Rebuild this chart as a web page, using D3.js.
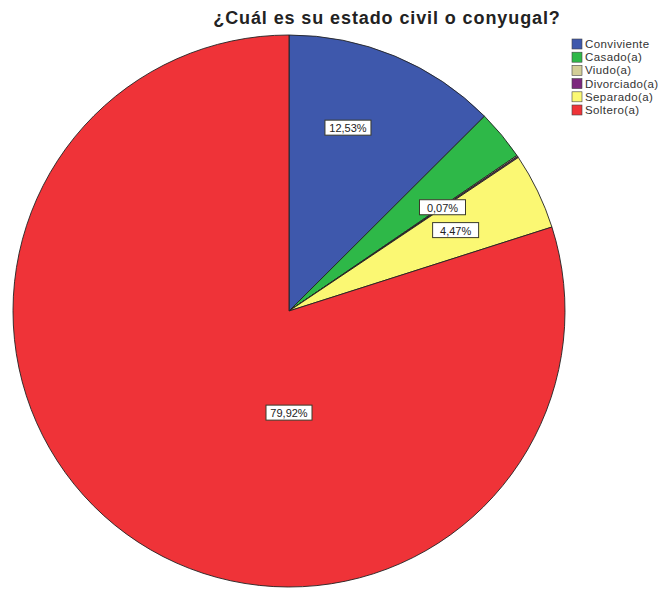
<!DOCTYPE html>
<html>
<head>
<meta charset="utf-8">
<script src="https://cdn.jsdelivr.net/npm/d3@7"></script>
<style>
  body { margin: 0; background: #fff; }
</style>
</head>
<body>
<div id="chart"></div>
<script>
// data
const categories = ['Conviviente', 'Casado(a)', 'Viudo(a)', 'Divorciado(a)', 'Separado(a)', 'Soltero(a)'];
const percents = [12.53, 2.94, 0.07, 0.07, 4.47, 79.92];
const colors = ['#3e58ac', '#2eb848', '#d3ce97', '#7c287d', '#fbf873', '#ef3338'];
const labelled = ['Conviviente', 'Divorciado(a)', 'Separado(a)', 'Soltero(a)'];
const title = '¿Cuál es su estado civil o conyugal?';

const width = 668, height = 590;
const cx = 289, cy = 311, radius = 276;

const svg = d3.select('#chart').append('svg')
  .attr('width', width)
  .attr('height', height);

const rows = categories.map((c, i) => ({ name: c, value: percents[i], color: colors[i] }));

const pie = d3.pie()
  .value(d => d.value)
  .sort(null);

const arc = d3.arc()
  .innerRadius(0)
  .outerRadius(radius);

const labelArc = d3.arc()
  .innerRadius(185)
  .outerRadius(185);

const g = svg.append('g')
  .attr('transform', `translate(${cx}, ${cy})`);

const slices = pie(rows);

g.selectAll('path')
  .data(slices)
  .join('path')
  .attr('d', arc)
  .attr('fill', d => d.data.color)
  .attr('stroke', '#222')
  .attr('stroke-width', 0.9);

const fmt = v => v.toFixed(2).replace('.', ',') + '%';

const labels = g.selectAll('g.lbl')
  .data(slices.filter(d => labelled.includes(d.data.name)))
  .join('g')
  .attr('class', 'lbl')
  .attr('transform', d => {
    // the big slice gets its label just below the centre, as SPSS did
    if (d.data.value > 50) return `translate(0, ${radius * 0.37})`;
    const [x, y] = labelArc.centroid(d);
    // SPSS pulls the first label a little toward the top
    if (d.index === 0) return `translate(${x - 12}, ${y - 12})`;
    return `translate(${x}, ${y})`;
  });

labels.append('rect')
  .attr('x', -23)
  .attr('y', -8)
  .attr('width', 46)
  .attr('height', 15)
  .attr('fill', '#fff')
  .attr('stroke', '#3a3a2a')
  .attr('stroke-width', 1);

labels.append('text')
  .attr('text-anchor', 'middle')
  .attr('y', 4)
  .attr('font-family', 'Liberation Sans, Arial, sans-serif')
  .attr('font-size', '11px')
  .attr('fill', '#222')
  .text(d => fmt(d.data.value));

// title
svg.append('text')
  .attr('x', 387)
  .attr('y', 24)
  .attr('text-anchor', 'middle')
  .attr('font-family', 'Liberation Sans, Arial, sans-serif')
  .attr('font-weight', 'bold')
  .attr('font-size', '18px')
  .attr('letter-spacing', '0.9px')
  .attr('fill', '#222')
  .text(title);

// legend
const legend = svg.append('g')
  .attr('transform', 'translate(572, 39)');

const items = legend.selectAll('g')
  .data(rows)
  .join('g')
  .attr('transform', (d, i) => `translate(0, ${i * 13.2})`);

items.append('rect')
  .attr('width', 10)
  .attr('height', 10)
  .attr('fill', d => d.color)
  .attr('stroke', '#444')
  .attr('stroke-width', 0.6);

items.append('text')
  .attr('x', 13)
  .attr('y', 9)
  .attr('font-family', 'Liberation Sans, Arial, sans-serif')
  .attr('font-size', '11.5px')
  .attr('letter-spacing', '0.4px')
  .attr('fill', '#333')
  .text(d => d.name);
</script>
</body>
</html>
